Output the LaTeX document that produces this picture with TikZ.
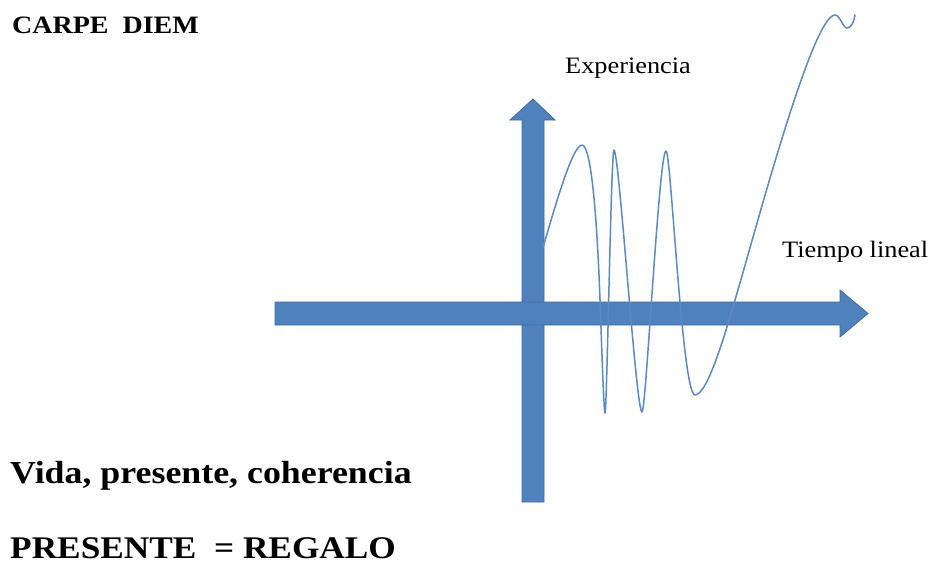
\documentclass[tikz,border=0pt]{standalone}
\usepackage{fontspec}
\setmainfont{Liberation Serif}
\definecolor{arrowblue}{HTML}{4F81BD}
\definecolor{arrowedge}{HTML}{3F6CA3}
\definecolor{curveblue}{HTML}{5A8AC6}
\tikzset{
  blockarrow/.style={fill=arrowblue, draw=arrowedge, line width=0.8pt, line join=miter},
  lifecurve/.style={draw=curveblue, line width=1.5pt, line cap=round, line join=round},
  txt/.style={inner sep=0pt, anchor=base west, text=black},
}
\begin{document}
\begin{tikzpicture}[x=1pt, y=-1pt]
\useasboundingbox (0,0) rectangle (931,565);
% vertical arrow
\draw[blockarrow] (522,502) -- (522,120) -- (510,120) -- (533,99) -- (555,120) -- (544,120) -- (544,502) -- cycle;
% horizontal arrow
\draw[blockarrow] (275,302) -- (840,302) -- (840,290) -- (868,313.5) -- (840,337) -- (840,325) -- (275,325) -- cycle;
% curve
\draw[lifecurve] (543,247)
  .. controls (549,229) and (571,145) .. (582,145)
  .. controls (592,145) and (597.5,230) .. (600,300)
  .. controls (602.5,370) and (604,413) .. (605,413)
  .. controls (607,413) and (611,150) .. (614,150)
  .. controls (619,150) and (636,412) .. (642,412)
  .. controls (646,412) and (659,151) .. (666,151)
  .. controls (671,151) and (682,395) .. (695,395)
  .. controls (708,395) and (727,327) .. (735,300)
  .. controls (755,233) and (812,15) .. (835,15)
  .. controls (840,15) and (843,28) .. (847,28)
  .. controls (851,28) and (854,22) .. (855,15);
% texts
\node[txt] (carpe) at (12,33) {\scalebox{1.12}[1]{\fontsize{25}{30}\selectfont\bfseries CARPE\ \ DIEM}};
\node[txt] (exp) at (565,73) {\scalebox{1.12}[1]{\fontsize{23.5}{28}\selectfont Experiencia}};
\node[txt] (tiempo) at (782,257) {\scalebox{1.12}[1]{\fontsize{23.5}{28}\selectfont Tiempo lineal}};
\node[txt] (vida) at (10,483) {\scalebox{1.12}[1]{\fontsize{32}{38}\selectfont\bfseries Vida, presente, coherencia}};
\node[txt] (regalo) at (10,558) {\scalebox{1.12}[1]{\fontsize{31.5}{38}\selectfont\bfseries PRESENTE\ \ = REGALO}};
\end{tikzpicture}
\end{document}
